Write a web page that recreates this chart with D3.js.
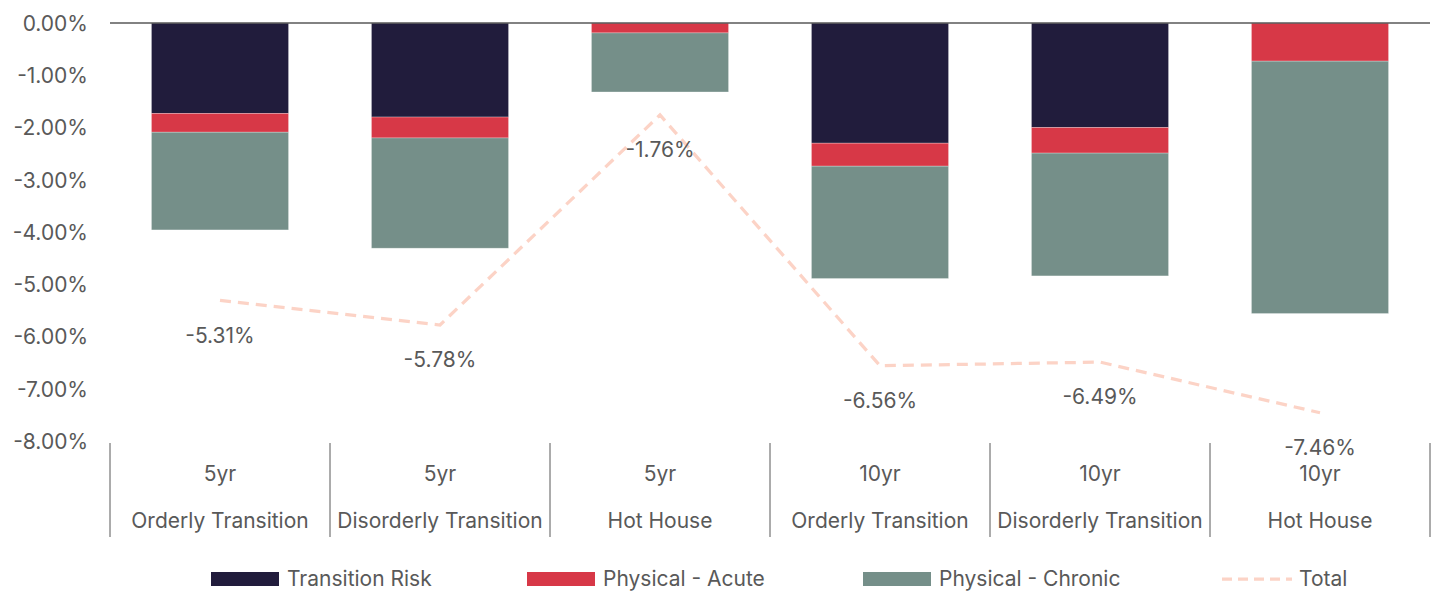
<!DOCTYPE html>
<html>
<head>
<meta charset="utf-8">
<script src="https://cdn.jsdelivr.net/npm/d3@7"></script>
<style>
  html, body { margin: 0; padding: 0; background: #fff; }
  svg text { font-family: "Inter", "Liberation Sans", sans-serif; fill: #595959; }
</style>
</head>
<body>
<svg id="chart" width="1435" height="594"></svg>
<script>
const horizons = ["5yr", "5yr", "5yr", "10yr", "10yr", "10yr"];
const scenarios = ["Orderly Transition", "Disorderly Transition", "Hot House", "Orderly Transition", "Disorderly Transition", "Hot House"];
const transitionRisk = [-1.73, -1.80, 0.00, -2.30, -2.00, 0.00];
const physicalAcute = [-0.36, -0.40, -0.19, -0.44, -0.49, -0.73];
const physicalChronic = [-1.87, -2.11, -1.13, -2.15, -2.35, -4.83];
const total = [-5.31, -5.78, -1.76, -6.56, -6.49, -7.46];
const yTicks = [0, -1, -2, -3, -4, -5, -6, -7, -8];
const seriesNames = ["Transition Risk", "Physical - Acute", "Physical - Chronic", "Total"];
const seriesColors = ["#211c3c", "#d73847", "#758f89", "#fcd3c6"];

const svg = d3.select("#chart");
const plotLeft = 110, plotRight = 1430, plotTop = 23, plotBottom = 441;
const pct = d => d3.format(".2f")(d).replace("\u2212", "-") + "%";

const idx = d3.range(horizons.length);
const xCat = d3.scaleBand().domain(idx).range([plotLeft, plotRight]).padding(0);
const xBar = d3.scaleBand().domain(idx).range([plotLeft, plotRight]).paddingInner(0.377).paddingOuter(0.1885);
const y = d3.scaleLinear().domain([-8, 0]).range([plotBottom, plotTop]);

// y-axis tick labels
const yAxis = d3.axisLeft(y).tickValues(yTicks).tickSize(0).tickPadding(0).tickFormat(pct);
const gy = svg.append("g").attr("transform", "translate(88,0)").call(yAxis);
gy.select(".domain").remove();
gy.selectAll("text").style("font-size", "21px").attr("fill", "#595959")
  .attr("dy", "0.35em").style("font-family", "Inter, 'Liberation Sans', sans-serif");

// stacked bars
const rows = idx.map(i => ({i, tr: transitionRisk[i], ac: physicalAcute[i], ch: physicalChronic[i]}));
const stack = d3.stack().keys(["tr", "ac", "ch"]).offset(d3.stackOffsetDiverging);
const layers = stack(rows);
svg.append("g").selectAll("g").data(layers).join("g")
  .attr("fill", (d, k) => seriesColors[k])
  .selectAll("rect").data(d => d).join("rect")
  .attr("x", d => xBar(d.data.i))
  .attr("width", xBar.bandwidth())
  .attr("y", d => y(Math.max(d[0], d[1])))
  .attr("height", d => Math.abs(y(d[0]) - y(d[1])))
  .attr("stroke", "#ffffff").attr("stroke-opacity", 0.35).attr("stroke-width", 0.75);

// zero line
svg.append("line").attr("x1", plotLeft).attr("x2", plotRight).attr("y1", y(0)).attr("y2", y(0))
  .attr("stroke", "#595959").attr("stroke-width", 1.5);

// category axis separators
svg.append("g").selectAll("line").data(d3.range(horizons.length + 1)).join("line")
  .attr("x1", d => plotLeft + d * xCat.step()).attr("x2", d => plotLeft + d * xCat.step())
  .attr("y1", 443).attr("y2", 537).attr("stroke", "#595959").attr("stroke-width", 1);

// category labels
const cat = svg.append("g");
cat.selectAll("text.h").data(idx).join("text").attr("class", "h")
  .attr("x", i => xCat(i) + xCat.bandwidth() / 2).attr("y", 481)
  .attr("text-anchor", "middle").style("font-size", "21px").text(i => horizons[i]);
cat.selectAll("text.s").data(idx).join("text").attr("class", "s")
  .attr("x", i => xCat(i) + xCat.bandwidth() / 2).attr("y", 528)
  .attr("text-anchor", "middle").style("font-size", "21px").text(i => scenarios[i]);

// total line
const line = d3.line().x(i => xCat(i) + xCat.bandwidth() / 2).y(i => y(total[i]));
svg.append("path").datum(idx).attr("d", line).attr("fill", "none")
  .attr("stroke", seriesColors[3]).attr("stroke-width", 3.25).attr("stroke-dasharray", "11,7");

svg.append("g").selectAll("text").data(idx).join("text")
  .attr("x", i => xCat(i) + xCat.bandwidth() / 2)
  .attr("y", i => y(total[i]) + 35).attr("dy", "0.35em")
  .attr("text-anchor", "middle").style("font-size", "21px")
  .text(i => pct(total[i]));

// legend
const legendX = [211, 527, 863, 1222];
const lg = svg.append("g");
seriesNames.forEach((name, k) => {
  const g = lg.append("g").attr("transform", `translate(${legendX[k]},579)`);
  if (k < 3) {
    g.append("rect").attr("x", 0).attr("y", -7).attr("width", 68).attr("height", 14).attr("fill", seriesColors[k]);
  } else {
    g.append("line").attr("x1", 0).attr("x2", 70).attr("y1", 0).attr("y2", 0)
      .attr("stroke", seriesColors[k]).attr("stroke-width", 3.25).attr("stroke-dasharray", "10,6");
  }
  g.append("text").attr("x", k < 3 ? 76 : 77).attr("y", 0).attr("dy", "0.35em")
    .style("font-size", "21px").text(name);
});
</script>
</body>
</html>
